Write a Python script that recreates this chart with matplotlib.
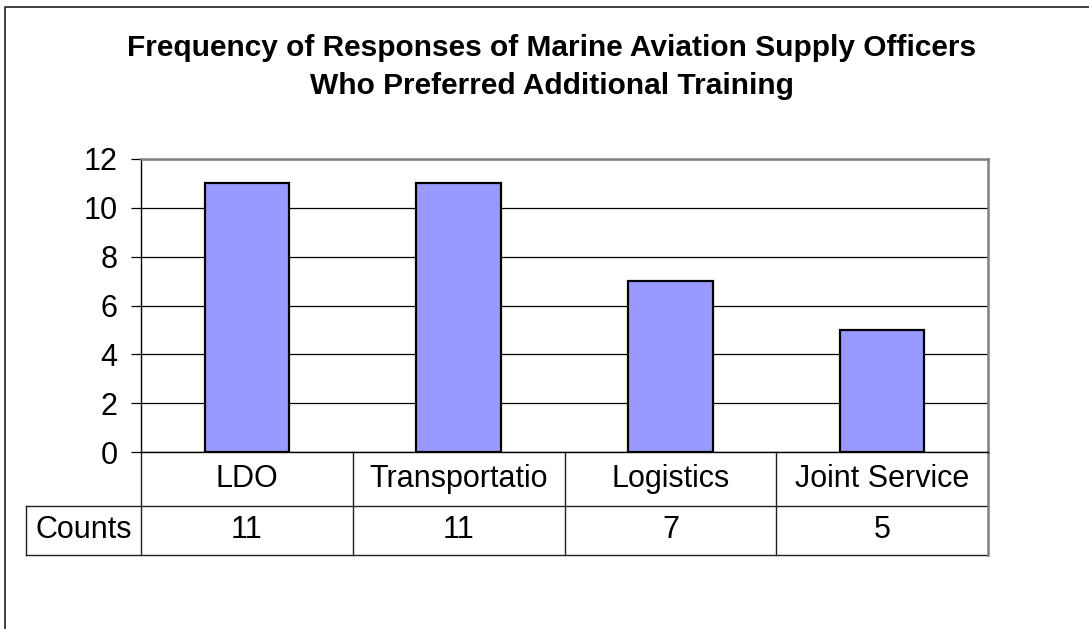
import matplotlib.pyplot as plt
from matplotlib.lines import Line2D
import matplotlib.transforms as mtransforms

categories = ["LDO", "Transportatio", "Logistics", "Joint Service"]
counts = [11, 11, 7, 5]
row_label = "Counts"
title = "Frequency of Responses of Marine Aviation Supply Officers\nWho Preferred Additional Training"

plt.rcParams["font.family"] = ["Liberation Sans", "DejaVu Sans"]

W, H = 1089, 629
fig = plt.figure(figsize=(W / 100, H / 100), dpi=100)

# outer chart border (only left and top edges show)
fig.lines.append(Line2D([5 / W, 5 / W, 1.0], [0.0, 1 - 7 / H, 1 - 7 / H],
                        transform=fig.transFigure, color="#222222", linewidth=1.2))

fig.text(552 / W, 1 - 67 / H, title, ha="center", va="center",
         fontsize=21.5, fontweight="bold", linespacing=1.42)

left, right, top, bottom = 141, 988, 159, 452
ax = fig.add_axes([left / W, 1 - bottom / H, (right - left) / W, (bottom - top) / H])

x = list(range(len(categories)))
ax.bar(x, counts, width=0.4, color="#9999FF", edgecolor="black", linewidth=1.6, zorder=3)
ax.set_xlim(-0.5, len(categories) - 0.5)
ax.set_ylim(0, 12)
ax.set_yticks(range(0, 13, 2))
ax.yaxis.grid(True, color="black", linewidth=0.9, zorder=0)
ax.set_axisbelow(True)
ax.set_xticks([])
ax.tick_params(axis="y", labelsize=22, length=7, width=0.9, pad=10)
ax.spines["left"].set_linewidth(1.0)
ax.spines["bottom"].set_linewidth(1.0)
for s in ("top", "right"):
    ax.spines[s].set_color("#808080")
    ax.spines[s].set_linewidth(1.8)

# data table under the plot area
trans = mtransforms.blended_transform_factory(ax.transData, ax.transAxes)
ph = bottom - top
r1 = -(506 - bottom) / ph
r2 = -(555 - bottom) / ph
x0 = -0.5 + 4 * (26 - left) / (right - left)
xr = len(categories) - 0.5
lk = dict(color="#222222", linewidth=1.0, transform=trans, clip_on=False)

ax.plot([-0.5, -0.5], [0, r2], **lk)
ax.plot([x0, xr], [r1, r1], **lk)
ax.plot([x0, xr], [r2, r2], **lk)
ax.plot([x0, x0], [r1, r2], **lk)
for i in range(1, len(categories)):
    ax.plot([i - 0.5, i - 0.5], [0, r2], **lk)
ax.plot([xr, xr], [0, r2], color="#808080", linewidth=1.8, transform=trans, clip_on=False)

for i, (c, n) in enumerate(zip(categories, counts)):
    ax.text(i, r1 / 2, c, ha="center", va="center", fontsize=22, transform=trans)
    ax.text(i, (r1 + r2) / 2, str(n), ha="center", va="center", fontsize=22, transform=trans)
ax.text((x0 - 0.5) / 2, (r1 + r2) / 2, row_label, ha="center", va="center",
        fontsize=22, transform=trans)

fig.savefig("out.png", dpi=100)
